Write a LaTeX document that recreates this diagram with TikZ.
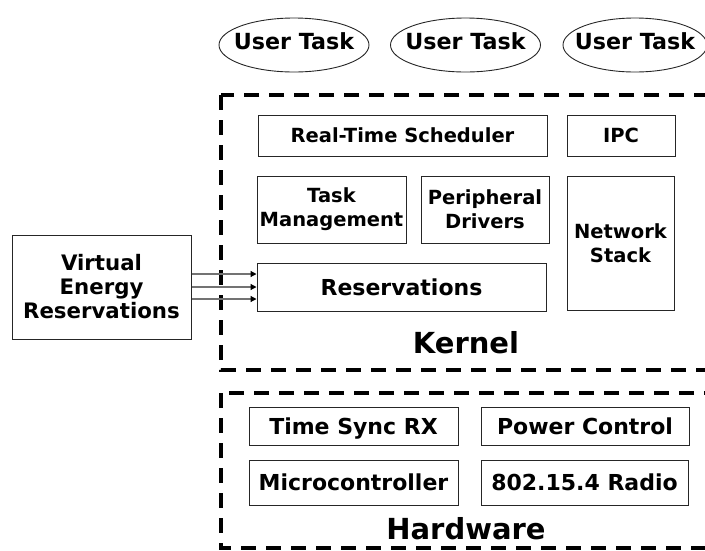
\documentclass[tikz,border=0pt]{standalone}
\usepackage{fontspec}
\setmainfont{DejaVu Sans}
\usetikzlibrary{shapes.geometric,arrows.meta,calc}

\newcommand{\fsz}[1]{\fontsize{#1}{24}\selectfont\bfseries}

\tikzset{
  lbl/.style={align=center},
  box/.style={lbl, draw=black!85, line width=1pt, inner sep=0pt},
  % single-line labels: caps centred in the box
  oneline/.style={text height=#1, text depth=0pt},
  small/.style={font=\fsz{19.5}},
  big/.style={font=\fsz{22}},
  task/.style={lbl, ellipse, draw=black!85, line width=0.9pt,
               inner xsep=-9pt, inner ysep=0pt,
               minimum width=150pt, minimum height=54pt, font=\fsz{22.2},
               text height=16pt, text depth=0pt},
  layer/.style={draw=black, line width=4pt, dash pattern=on 15pt off 10pt},
  title/.style={font=\fontsize{29}{32}\selectfont\bfseries, anchor=base},
  feed/.style={draw=black!55, line width=1.2pt,
               -{Triangle[length=6pt,width=6pt,color=black]}}
}

\begin{document}
\begin{tikzpicture}[x=1pt,y=-1pt]
  \clip (0,0) rectangle (705,550);

  % user tasks
  \node[task] (t1) at (294,45)   {\raisebox{3.5pt}{User Task}};
  \node[task] (t2) at (465.5,45) {\raisebox{3.5pt}{User Task}};
  \node[task, inner xsep=-11pt, minimum width=144pt] (t3) at (635,45) {\raisebox{3.5pt}{User Task}};

  % kernel layer
  \draw[layer] (221,95) rectangle (715,370);
  \node[box, small, oneline=14.2pt, minimum width=289pt, minimum height=41pt] (rts) at (402.5,135.5) {Real-Time Scheduler};
  \node[box, small, oneline=14.2pt, minimum width=108pt, minimum height=41pt] (ipc) at (621,135.5) {IPC};
  \node[box, small, minimum width=149pt, minimum height=67pt] (tm) at (331.5,209.5) {Task\\Management};
  \node[box, small, minimum width=128pt, minimum height=67pt] (pd) at (485,209.5) {Peripheral\\Drivers};
  \node[box, small, minimum width=107pt, minimum height=134pt] (ns) at (620.5,243) {Network\\Stack};
  \node[box, big, oneline=16pt, minimum width=289pt, minimum height=48pt] (res) at (401.5,287) {Reservations};
  \node[title] (kernel) at (466,353) {Kernel};

  % virtual energy reservations feeding the kernel reservations
  \node[box, font=\fsz{21.3}, minimum width=179pt, minimum height=104pt] (ver) at (101.5,287) {Virtual\\Energy\\Reservations};
  \coordinate (f1) at ($(ver.east)+(0,-13)$);
  \coordinate (f2) at (ver.east);
  \coordinate (f3) at ($(ver.east)+(0,12)$);
  \draw[feed] (f1) -- (f1 -| res.west);
  \draw[feed] (f2) -- (f2 -| res.west);
  \draw[feed] (f3) -- (f3 -| res.west);

  % hardware layer
  \draw[layer] (221,393) rectangle (715,548);
  \node[box, big, oneline=16pt, minimum width=209pt, minimum height=38pt] (ts) at (353.5,426) {Time Sync RX};
  \node[box, big, oneline=16pt, minimum width=208pt, minimum height=38pt] (pc) at (585,426) {Power Control};
  \node[box, big, oneline=16pt, minimum width=209pt, minimum height=45pt] (mcu) at (353.5,482.5) {Microcontroller};
  \node[box, big, oneline=16pt, minimum width=207pt, minimum height=45pt] (radio) at (584.5,482.5) {802.15.4 Radio};
  \node[title] (hw) at (466,539) {Hardware};
\end{tikzpicture}
\end{document}
